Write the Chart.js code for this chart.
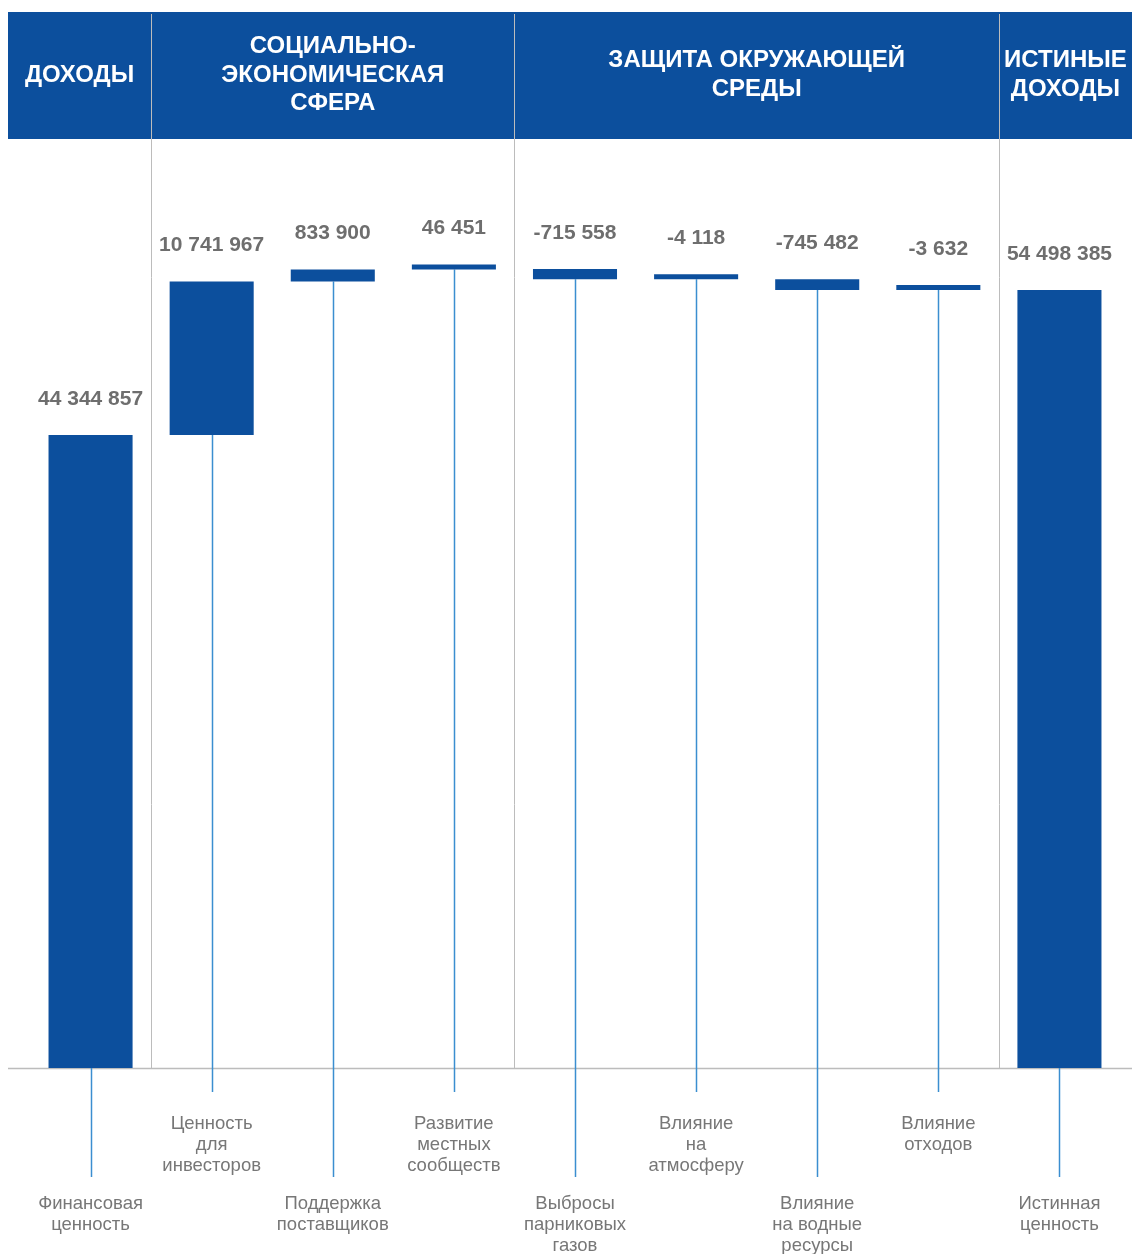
<!DOCTYPE html>
<html lang="ru">
<head>
<meta charset="utf-8">
<title>Истинная ценность</title>
<script src="https://cdn.jsdelivr.net/npm/chart.js@4.4.1/dist/chart.umd.min.js"></script>
<style>
  html, body { margin: 0; padding: 0; background: #ffffff; }
  #wrap { position: relative; width: 1132px; height: 1254px; }
</style>
</head>
<body>
<div id="wrap"><canvas id="chart"></canvas></div>
<script>
// Categories of the waterfall (line breaks as laid out under the axis)
const categories = [
  'Финансовая\nценность',
  'Ценность\nдля\nинвесторов',
  'Поддержка\nпоставщиков',
  'Развитие\nместных\nсообществ',
  'Выбросы\nпарниковых\nгазов',
  'Влияние\nна\nатмосферу',
  'Влияние\nна водные\nресурсы',
  'Влияние\nотходов',
  'Истинная\nценность'
];

// Stated values: totals for the first and last column, changes in between
const values = [44344857, 10741967, 833900, 46451, -715558, -4118, -745482, -3632, 54498385];
const kinds  = ['total', 'step', 'step', 'step', 'step', 'step', 'step', 'step', 'total'];

// Column groups shown in the header band (first and last category index)
const groupTitles = ['ДОХОДЫ', 'СОЦИАЛЬНО-\nЭКОНОМИЧЕСКАЯ\nСФЕРА', 'ЗАЩИТА ОКРУЖАЮЩЕЙ\nСРЕДЫ', 'ИСТИНЫЕ\nДОХОДЫ'];
const groupFirst  = [0, 1, 4, 8];
const groupLast   = [0, 3, 7, 8];

// Upper limit of the hidden value axis
const axisMax = 65000000;

// Floating ranges [start, end] built by running the changes from the first total
const ranges = [];
let running = 0;
values.forEach((v, i) => {
  if (kinds[i] === 'total') { ranges.push([0, v]); running = v; }
  else { ranges.push([running, running + v]); running += v; }
});

function fmt(v) {
  const s = Math.abs(v).toString().replace(/\B(?=(\d{3})+(?!\d))/g, ' ');
  return (v < 0 ? '-' : '') + s;
}

const BLUE = '#0c4f9d';
const LINE_BLUE = '#3b8ed0';
const GRID = '#bcbcbc';
const FONT = '"Liberation Sans", Arial, sans-serif';
const BAND_LEFT = 8;

const decor = {
  id: 'decor',
  beforeDatasetsDraw(chart) {
    const { ctx, chartArea: ca, scales: { x } } = chart;
    const n = categories.length;
    const W = chart.width;
    const edge = i => {
      if (i <= 0) return BAND_LEFT;
      if (i >= n) return W;
      return (x.getPixelForValue(i - 1) + x.getPixelForValue(i)) / 2;
    };
    ctx.save();
    // header band
    ctx.fillStyle = BLUE;
    ctx.fillRect(BAND_LEFT, 12, W - BAND_LEFT, 127);
    // group dividers
    ctx.strokeStyle = GRID;
    ctx.lineWidth = 1;
    for (let g = 1; g < groupFirst.length; g++) {
      const bx = Math.round(edge(groupFirst[g])) + 0.5;
      ctx.beginPath();
      ctx.moveTo(bx, 14);
      ctx.lineTo(bx, ca.bottom);
      ctx.stroke();
    }
    // group titles
    ctx.fillStyle = '#ffffff';
    ctx.font = 'bold 24px ' + FONT;
    ctx.textAlign = 'center';
    ctx.textBaseline = 'middle';
    groupTitles.forEach((t, g) => {
      const cx = (edge(groupFirst[g]) + edge(groupLast[g] + 1)) / 2;
      const lines = t.split('\n');
      const lh = 28.5;
      const y0 = 75 - (lines.length - 1) * lh / 2;
      lines.forEach((ln, k) => ctx.fillText(ln, cx, y0 + k * lh));
    });
    // baseline
    ctx.strokeStyle = GRID;
    ctx.lineWidth = 1.5;
    ctx.beginPath();
    ctx.moveTo(BAND_LEFT, ca.bottom + 0.5);
    ctx.lineTo(W, ca.bottom + 0.5);
    ctx.stroke();
    // leader lines from each bar down to its caption
    const meta = chart.getDatasetMeta(0);
    ctx.strokeStyle = LINE_BLUE;
    ctx.lineWidth = 1.5;
    meta.data.forEach((el, i) => {
      const bottom = Math.max(el.y, el.base);
      const end = i % 2 === 0 ? 1177 : 1092;
      const lx = Math.round(el.x) + 0.5;
      ctx.beginPath();
      ctx.moveTo(lx, bottom);
      ctx.lineTo(lx, end);
      ctx.stroke();
    });
    // captions in two staggered rows
    ctx.fillStyle = '#777777';
    ctx.font = '18.5px ' + FONT;
    meta.data.forEach((el, i) => {
      const lines = categories[i].split('\n');
      const y0 = i % 2 === 0 ? 1204 : 1124;
      lines.forEach((ln, k) => ctx.fillText(ln, el.x, y0 + k * 21));
    });
    ctx.restore();
  },
  afterDatasetsDraw(chart) {
    const { ctx } = chart;
    const meta = chart.getDatasetMeta(0);
    ctx.save();
    ctx.fillStyle = '#6e6e6e';
    ctx.font = 'bold 21px ' + FONT;
    ctx.textAlign = 'center';
    ctx.textBaseline = 'middle';
    meta.data.forEach((el, i) => {
      const top = Math.min(el.y, el.base);
      ctx.fillText(fmt(values[i]), el.x, top - 36);
    });
    ctx.restore();
  }
};

new Chart(document.getElementById('chart'), {
  type: 'bar',
  data: {
    labels: categories,
    datasets: [{
      data: ranges,
      backgroundColor: BLUE,
      borderWidth: 0,
      categoryPercentage: 1,
      barPercentage: 0.694,
      minBarLength: 5
    }]
  },
  options: {
    responsive: true,
    maintainAspectRatio: false,
    animation: false,
    layout: { padding: { left: 30, right: 12, top: 140, bottom: 186 } },
    plugins: { legend: { display: false }, tooltip: { enabled: false } },
    scales: {
      x: { display: false, offset: true },
      y: { display: false, min: 0, max: axisMax }
    }
  },
  plugins: [decor]
});
</script>
</body>
</html>
